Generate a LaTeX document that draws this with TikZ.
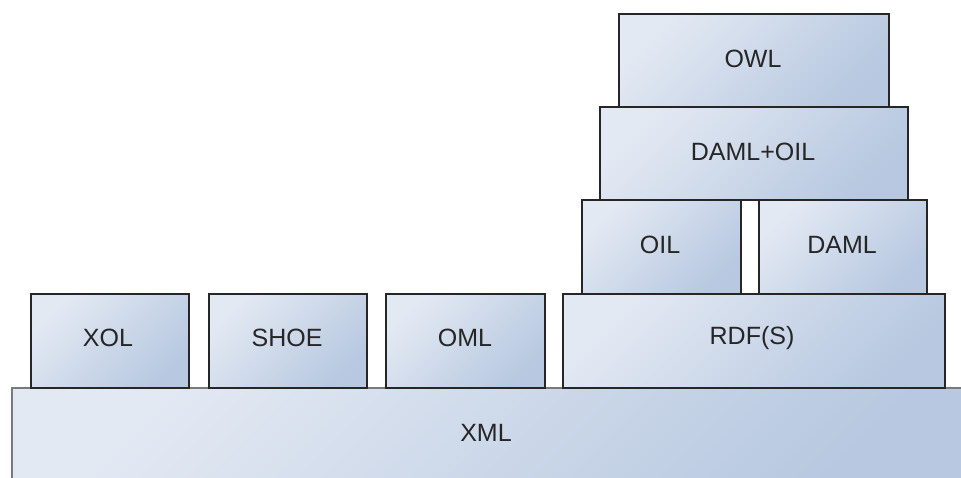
\documentclass[tikz,border=0pt]{standalone}
\usepackage{fontspec}
\setmainfont{Liberation Sans}
\definecolor{boxlight}{HTML}{E3E9F3}
\definecolor{boxdark}{HTML}{B7C8E0}
\definecolor{boxedge}{HTML}{262626}
\definecolor{baseedge}{HTML}{7A7A7A}
\tikzset{
  layer/.style={draw=boxedge, line width=2pt, shading=axis, top color=boxlight, bottom color=boxdark, shading angle=45},
  baselayer/.style={layer, draw=baseedge},
  lbl/.style={font=\fontsize{25}{25}\selectfont, text=black!85}
}
\begin{document}
\begin{tikzpicture}[x=1pt,y=-1pt]
\useasboundingbox (0,0) rectangle (961,478);
\begin{scope}
\clip (0,0) rectangle (961,478);
\draw[baselayer] (12,388) rectangle (975,490);
\end{scope}
\node[lbl] (xml) at (486,433) {XML};
\draw[layer] (31,294) rectangle (189,388);
\node[lbl] (xol) at (108,338) {XOL};
\draw[layer] (209,294) rectangle (367,388);
\node[lbl] (shoe) at (287,338) {SHOE};
\draw[layer] (386,294) rectangle (545,388);
\node[lbl] (oml) at (465,338) {OML};
\draw[layer] (563,294) rectangle (945,388);
\node[lbl] (rdf) at (752,338) {RDF(S)};
\draw[layer] (582,200) rectangle (741,294);
\node[lbl] (oil) at (660,245) {OIL};
\draw[layer] (759,200) rectangle (927,294);
\node[lbl] (daml) at (842,245) {DAML};
\draw[layer] (600,107) rectangle (908,200);
\node[lbl] (damloil) at (753,152) {DAML+OIL};
\draw[layer] (619,14) rectangle (889,107);
\node[lbl] (owl) at (753,59) {OWL};
\end{tikzpicture}
\end{document}
